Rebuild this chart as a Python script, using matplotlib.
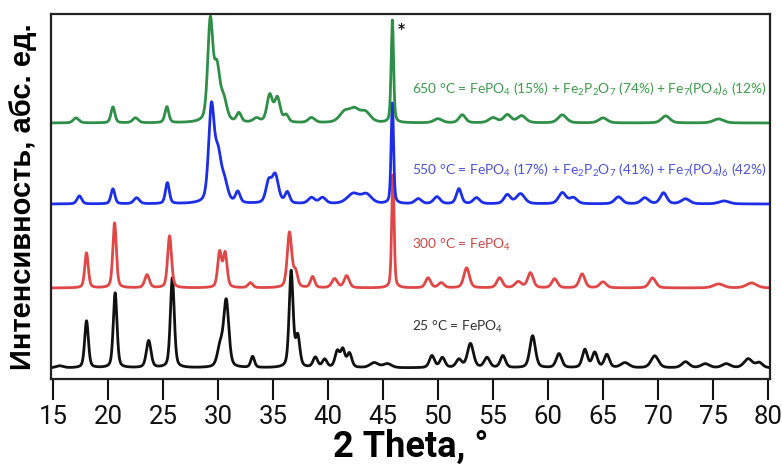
import numpy as np
import matplotlib
matplotlib.use("Agg")
import matplotlib.pyplot as plt

# 2-theta grid for the diffraction profiles
two_theta = np.arange(15.0, 80.0001, 0.02)

# Peak lists per sample: position (deg), height (a.u.), FWHM (deg)
black_pos = [15.6, 18.05, 20.65, 23.7, 25.85, 30.2, 30.75, 33.15, 36.65, 37.25, 38.85, 39.7,
             40.85, 41.35, 41.95, 44.2, 45.4, 49.45, 50.4, 51.9, 52.95, 54.45, 55.9, 58.6,
             61.0, 63.35, 64.25, 65.35, 67.0, 69.7, 72.5, 74.3, 76.2, 78.2, 79.2]
black_h = [2, 47, 75, 27, 90, 20, 66, 11, 96, 30, 10, 8,
           16, 17, 14, 5, 4, 12, 10, 8, 24, 10, 12, 32,
           14, 18, 15, 13, 5, 12, 6, 4, 4, 9, 5]
black_w = [0.8, 0.4, 0.4, 0.5, 0.42, 0.6, 0.55, 0.4, 0.42, 0.45, 0.5, 0.5,
           0.5, 0.45, 0.5, 0.9, 0.9, 0.55, 0.55, 0.6, 0.65, 0.6, 0.55, 0.6,
           0.6, 0.55, 0.55, 0.55, 0.9, 0.8, 0.8, 0.9, 0.9, 0.9, 0.7]

red_pos = [18.05, 20.6, 23.55, 25.6, 30.15, 30.65, 32.95, 36.5, 37.05, 38.6, 40.6, 41.7,
           45.9, 49.1, 50.3, 52.6, 55.6, 57.3, 58.4, 60.6, 63.1, 65.0, 69.5, 75.5, 78.5]
red_h = [35, 65, 13, 52, 35, 34, 5, 55, 15, 11, 9, 12,
         113, 10, 5, 20, 10, 6, 15, 9, 14, 6, 10, 4, 5]
red_w = [0.38, 0.38, 0.5, 0.42, 0.42, 0.42, 0.5, 0.48, 0.45, 0.45, 0.6, 0.55,
         0.26, 0.55, 0.6, 0.6, 0.6, 0.7, 0.6, 0.6, 0.6, 0.7, 0.7, 1.1, 1.1]

blue_pos = [17.4, 20.45, 22.6, 25.4, 29.4, 30.0, 30.6, 31.8, 34.6, 35.2, 36.3, 38.5, 39.5,
            42.3, 43.5, 45.85, 48.2, 49.9, 51.9, 53.5, 56.3, 57.5, 61.3, 62.3, 66.4,
            68.8, 70.5, 72.5, 76.0]
blue_h = [8, 15, 6, 21, 93, 45, 18, 11, 20, 28, 11, 6, 6,
          10, 9, 101, 5, 7, 15, 6, 9, 10, 11, 6, 7,
          6, 11, 5, 3]
blue_w = [0.5, 0.42, 0.6, 0.42, 0.6, 0.7, 0.7, 0.5, 0.6, 0.7, 0.5, 0.7, 0.7,
          1.3, 1.1, 0.26, 0.7, 0.7, 0.55, 0.7, 0.7, 0.9, 0.8, 0.8, 0.8,
          0.8, 0.7, 0.9, 1.1]

green_pos = [17.1, 20.45, 22.5, 25.35, 29.3, 29.9, 30.5, 31.9, 33.5, 34.7, 35.4, 36.2, 38.5,
             41.5, 42.4, 43.4, 45.85, 50.0, 52.2, 55.0, 56.3, 57.6, 61.3, 65.0, 70.7, 75.5]
green_h = [5, 16, 5, 16, 100, 50, 22, 9, 4, 27, 24, 7, 5,
           10, 12, 10, 103, 4, 8, 5, 8, 7, 8, 5, 7, 4]
green_w = [0.6, 0.42, 0.6, 0.42, 0.55, 0.6, 0.7, 0.5, 0.7, 0.6, 0.6, 0.5, 0.7,
           1.1, 1.1, 1.1, 0.26, 0.9, 0.7, 0.9, 0.8, 0.9, 0.9, 0.9, 0.9, 1.1]

# Vertical offsets of the stacked patterns (a.u.)
offsets = {"25": 11, "300": 91, "550": 175, "650": 256}

labels = {
    "25": r"25 °C = FePO$_4$",
    "300": r"300 °C = FePO$_4$",
    "550": r"550 °C = FePO$_4$ (17%) + Fe$_2$P$_2$O$_7$ (41%) + Fe$_7$(PO$_4$)$_6$ (42%)",
    "650": r"650 °C = FePO$_4$ (15%) + Fe$_2$P$_2$O$_7$ (74%) + Fe$_7$(PO$_4$)$_6$ (12%)",
}


def profile(pos, h, w):
    y = np.zeros_like(two_theta)
    for p, a, f in zip(pos, h, w):
        s = f / 2.3548
        g = np.exp(-0.5 * ((two_theta - p) / s) ** 2)
        l = 1.0 / (1.0 + ((two_theta - p) / (f / 2)) ** 2)
        y += a * (0.6 * g + 0.4 * l)
    return y


series = [
    ("25", black_pos, black_h, black_w, "#111111", "#333333"),
    ("300", red_pos, red_h, red_w, "#e04848", "#d04646"),
    ("550", blue_pos, blue_h, blue_w, "#1c2ee6", "#4a52d8"),
    ("650", green_pos, green_h, green_w, "#2f8f48", "#3f9a4c"),
]

plt.rcParams["mathtext.fontset"] = "custom"
plt.rcParams["mathtext.rm"] = "Lato"
plt.rcParams["mathtext.it"] = "Lato:italic"

fig = plt.figure(figsize=(7.82, 4.68), dpi=100)
ax = fig.add_axes([51 / 782, 1 - 379 / 468, 719 / 782, 365 / 468])

for key, pos, h, w, lc, tc in series:
    ax.plot(two_theta, offsets[key] + profile(pos, h, w), color=lc, lw=2.0,
            solid_joinstyle="round")

label_y = {"25": 52, "300": 134, "550": 209, "650": 290}
for key, pos, h, w, lc, tc in series:
    ax.text(47.65, label_y[key], labels[key], color=tc, fontsize=9.9,
            family="Lato", va="center", ha="left")

ax.text(46.3, 350, "*", fontsize=10, color="#111111", ha="left", va="center",
        fontweight="bold")

ax.set_xlim(14.82, 80.18)
ax.set_ylim(0, 365)
ax.set_yticks([])
ax.set_xticks(np.arange(15, 81, 5))

tick_font = ["Roboto", "DejaVu Sans"]
for t in ax.get_xticklabels():
    t.set_family(tick_font)
    t.set_fontsize(18.5)
ax.tick_params(axis="x", direction="out", length=15, width=1.5, pad=4, colors="#111111")
for s in ax.spines.values():
    s.set_linewidth(1.6)
    s.set_color("#222222")

ax.set_xlabel("2 Theta, °", fontsize=26, fontweight="bold", family=tick_font, labelpad=0)
ax.set_ylabel("Интенсивность, абс. ед.", fontsize=21, fontweight="bold",
              family=["Liberation Sans", "DejaVu Sans"], labelpad=10)

fig.savefig("out.png", dpi=100, facecolor="white")
